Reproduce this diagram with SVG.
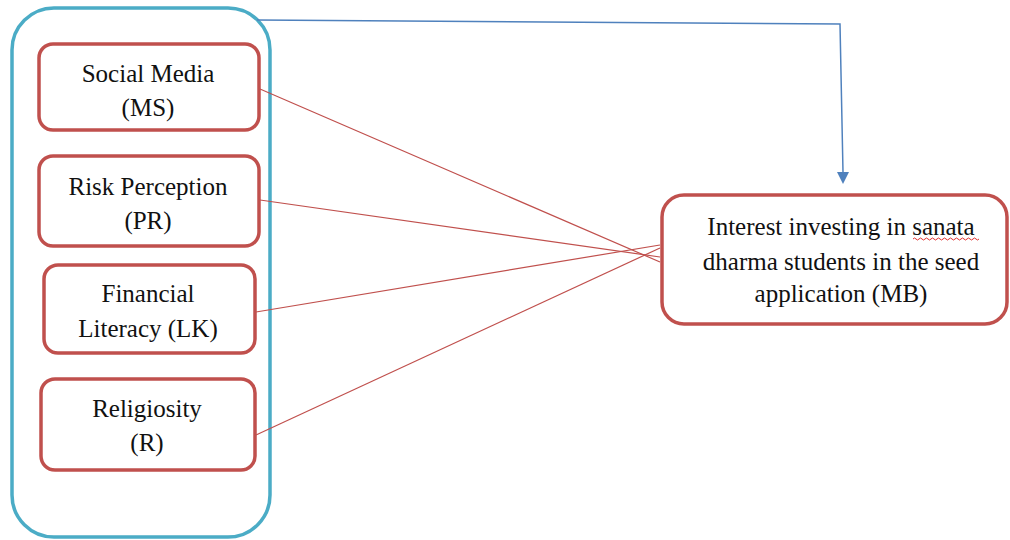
<svg xmlns="http://www.w3.org/2000/svg" width="1010" height="540" viewBox="0 0 1010 540">
<defs>
<style>
.node{fill:#fff;stroke:#c0504d;stroke-width:3.5}
.t{font-family:"Liberation Serif","Times New Roman",serif;font-size:25px;fill:#111;text-anchor:middle}
.red{stroke:#c0504d;stroke-width:1.2;fill:none}
.blue{stroke:#4f81bd;stroke-width:1.5;fill:none}
</style>
</defs>
<rect width="1010" height="540" fill="#fff"/>
<g id="group-box">
<rect x="12" y="8" width="258" height="529" rx="42" fill="#fff" stroke="#4bacc6" stroke-width="3.5"/>
</g>
<g id="connectors">
<line class="red" x1="260" y1="89" x2="660" y2="262"/>
<line class="red" x1="260" y1="200" x2="660" y2="257"/>
<line class="red" x1="256" y1="312" x2="660" y2="245"/>
<line class="red" x1="256" y1="435" x2="660" y2="248"/>
<path class="blue" d="M257,20 L840,24 L843,172"/>
<path d="M837,172 L849,172 L843,184 Z" fill="#4f81bd"/>
</g>
<g id="node-ms">
<rect class="node" x="39" y="44" width="220" height="86" rx="14"/>
<text class="t" x="148" y="82">Social Media</text>
<text class="t" x="148" y="116">(MS)</text>
</g>
<g id="node-pr">
<rect class="node" x="39" y="156" width="220" height="90" rx="14"/>
<text class="t" x="148" y="195">Risk Perception</text>
<text class="t" x="148" y="229">(PR)</text>
</g>
<g id="node-lk">
<rect class="node" x="44" y="265" width="211" height="88" rx="14"/>
<text class="t" x="148" y="302">Financial</text>
<text class="t" x="148" y="337">Literacy (LK)</text>
</g>
<g id="node-r">
<rect class="node" x="41" y="379" width="214" height="91" rx="14"/>
<text class="t" x="147" y="417">Religiosity</text>
<text class="t" x="147" y="451">(R)</text>
</g>
<g id="node-mb">
<rect class="node" x="662" y="195" width="345" height="129" rx="22"/>
<text class="t" x="841" y="235">Interest investing in sanata</text>
<text class="t" x="841" y="270">dharma students in the seed</text>
<text class="t" x="841" y="302">application (MB)</text>
<path d="M913,239 q1.5,-2 3,0 t3,0 t3,0 t3,0 t3,0 t3,0 t3,0 t3,0 t3,0 t3,0 t3,0 t3,0 t3,0 t3,0 t3,0 t3,0 t3,0 t3,0 t3,0 t3,0 t3,0 t3,0" fill="none" stroke="#e03030" stroke-width="1"/>
</g>
</svg>
